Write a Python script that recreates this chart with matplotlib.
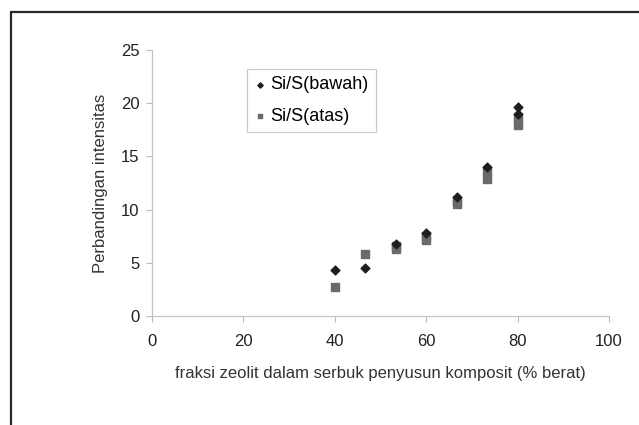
"""
Perbandingan intensitas Si/S terhadap fraksi zeolit
"""
import matplotlib
matplotlib.use('Agg')
import matplotlib.pyplot as plt
from matplotlib.patches import Rectangle

x_bawah = [40, 46.7, 53.3, 60, 66.7, 73.3, 80, 80]
y_bawah = [4.3, 4.5, 6.8, 7.8, 11.2, 14.0, 19.7, 19.0]
x_atas = [40, 46.7, 53.3, 53.3, 60, 60, 66.7, 66.7, 73.3, 73.3, 80, 80]
y_atas = [2.7, 5.8, 6.6, 6.3, 7.5, 7.1, 10.8, 10.5, 13.5, 12.9, 18.5, 18.0]

x_ticks = [0, 20, 40, 60, 80, 100]
y_ticks = [0, 5, 10, 15, 20, 25]

plt.rcParams['font.family'] = ['Liberation Sans', 'DejaVu Sans']

fig = plt.figure(figsize=(6.39, 4.25), dpi=100)
ax = fig.add_axes([0.238, 0.2565, 0.715, 0.6255])

# cadre autour du graphique (coupé à droite et en bas)
fig.patches.append(Rectangle((11 / 639, -0.05), 1.0, 1 - 12 / 425 + 0.05,
                             transform=fig.transFigure, fill=False,
                             edgecolor='#2a2a2a', linewidth=1.6))

ax.scatter(x_bawah, y_bawah, marker='D', s=20, color='#1e1e1e',
           label='Si/S(bawah)', zorder=3)
ax.scatter(x_atas, y_atas, marker='s', s=32, color='#6a6a6a',
           label='Si/S(atas)', zorder=2)

ax.set_xlim(0, 100)
ax.set_ylim(0, 25)
ax.set_xticks(x_ticks)
ax.set_yticks(y_ticks)
ax.tick_params(labelsize=12, colors='#bbbbbb', length=4, width=0.8,
               labelcolor='#222222')
ax.tick_params(axis='x', pad=9)
ax.tick_params(axis='y', pad=5)
for side in ['top', 'right']:
    ax.spines[side].set_visible(False)
for side in ['left', 'bottom']:
    ax.spines[side].set_color('#c4c4c4')
    ax.spines[side].set_linewidth(0.9)

ax.set_xlabel('fraksi zeolit dalam serbuk penyusun komposit (% berat)',
              fontsize=12, color='#333333', labelpad=12)
ax.set_ylabel('Perbandingan intensitas', fontsize=12, color='#333333',
              labelpad=9)

leg = ax.legend(loc='upper left', bbox_to_anchor=(0.208, 0.929),
                frameon=True, fancybox=False, fontsize=13,
                handletextpad=0.3, handlelength=0.6, borderpad=0.4,
                labelspacing=0.8, markerscale=0.6, borderaxespad=0)
leg.get_frame().set_edgecolor('#bdbdbd')
leg.get_frame().set_linewidth(0.9)

fig.savefig('out.png', dpi=100)
